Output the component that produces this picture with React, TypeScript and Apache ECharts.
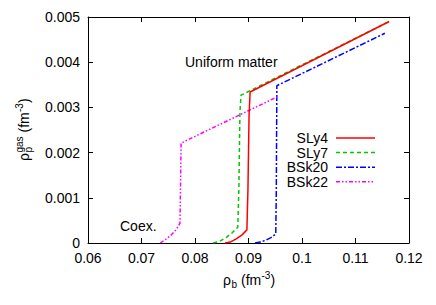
import React, { useEffect, useRef } from "react";
import * as echarts from "echarts";

const FONT = "'Liberation Sans', Arial, Helvetica, sans-serif";

const seriesNames = ["SLy4", "SLy7", "BSk20", "BSk22"];
const seriesColors = ["#ff0000", "#00c800", "#0000ff", "#ff00ff"];

const sly4: [number, number][] = [
  [0.0856, 0], [0.0866, 0.00002], [0.0877, 0.00009], [0.0888, 0.00018], [0.0897, 0.00029],
  [0.0899, 0.0012], [0.0901, 0.0028], [0.0903, 0.00334], [0.1163, 0.0049],
];
const sly7: [number, number][] = [
  [0.0834, 0], [0.0845, 0.00003], [0.0857, 0.00011], [0.0869, 0.00022], [0.088, 0.00035],
  [0.0882, 0.0012], [0.0884, 0.0029], [0.0886, 0.00327], [0.1163, 0.0049],
];
const bsk20: [number, number][] = [
  [0.0912, 0], [0.0922, 0.00002], [0.0932, 0.00006], [0.0942, 0.00012], [0.0951, 0.0002],
  [0.0952, 0.0012], [0.0953, 0.00348], [0.1155, 0.00464],
];
const bsk22: [number, number][] = [
  [0.0735, 0], [0.0745, 0.00008], [0.0755, 0.00017], [0.0765, 0.0003], [0.0772, 0.00044],
  [0.0773, 0.0013], [0.0774, 0.00221], [0.0953, 0.00323],
];
const seriesData = [sly4, sly7, bsk20, bsk22];
const seriesDash: (string | number[])[] = ["solid", [4, 3], [6, 2, 2, 2], [4, 2, 1.5, 2, 1.5, 2]];

const xMin = 0.06, xMax = 0.12, xStep = 0.01;
const yMin = 0, yMax = 0.005, yStep = 0.001;

export default function App() {
  const ref = useRef<HTMLDivElement>(null);
  useEffect(() => {
    if (!ref.current) return;
    const chart = echarts.init(ref.current, undefined, { renderer: "svg" });
    const axisCommon = {
      type: "value" as const,
      splitLine: { show: false },
      axisLine: { show: true, onZero: false, lineStyle: { color: "#000", width: 1 } },
      axisTick: { show: true, inside: true, length: 5, lineStyle: { color: "#000", width: 1 } },
    };
    const labelStyle = { color: "#000", fontSize: 14, fontFamily: FONT };
    const txt = (text: string, x: number, y: number, size = 14, align = "left") => ({
      type: "text", x, y,
      style: { text, fontSize: size, fontFamily: FONT, fill: "#000", textVerticalAlign: "middle", textAlign: align },
    });
    const legendRows = [138, 152.6, 167.2, 181.8];
    const legendItems = seriesNames.flatMap((name, i) => [
      txt(name, 328, legendRows[i], 14, "right"),
      {
        type: "line",
        shape: { x1: 336, y1: legendRows[i], x2: 375, y2: legendRows[i] },
        style: {
          stroke: seriesColors[i], lineWidth: 1.5,
          lineDash: Array.isArray(seriesDash[i]) ? seriesDash[i] : null,
        },
      },
    ]);
    chart.setOption({
      animation: false,
      backgroundColor: "#fff",
      grid: { left: 88, right: 27, top: 17, bottom: 62, containLabel: false },
      xAxis: [
        { ...axisCommon, min: xMin, max: xMax, interval: xStep, position: "bottom",
          axisLabel: { ...labelStyle, margin: 8 } },
        { ...axisCommon, min: xMin, max: xMax, interval: xStep, position: "top",
          axisLabel: { show: false } },
      ],
      yAxis: [
        { ...axisCommon, min: yMin, max: yMax, interval: yStep, position: "left",
          axisLabel: { ...labelStyle, margin: 8 } },
        { ...axisCommon, min: yMin, max: yMax, interval: yStep, position: "right",
          axisLabel: { show: false } },
      ],
      series: seriesNames.map((name, i) => ({
        name,
        type: "line",
        xAxisIndex: 0,
        yAxisIndex: 0,
        data: seriesData[i],
        symbol: "none",
        lineStyle: { color: seriesColors[i], width: 1.5, type: seriesDash[i] },
        itemStyle: { color: seriesColors[i] },
        z: 3 + (i === 0 ? 1 : 0),
      })),
      graphic: [
        txt("Uniform matter", 185, 62),
        txt("Coex.", 120, 226),
        {
          type: "group", x: 223, y: 280,
          children: [
            txt("ρ", 0, 0), txt("b", 8.5, 4, 10), txt("(fm", 18, 0), txt("-3", 38.5, -5, 10), txt(")", 47.5, 0),
          ],
        },
        {
          type: "group", x: 24, y: 161, rotation: Math.PI / 2,
          children: [
            txt("ρ", 0, 0), txt("gas", 8.5, -5, 10), txt("p", 8.5, 4, 10), txt("(fm", 28.5, 0),
            txt("-3", 49, -5, 10), txt(")", 58, 0),
          ],
        },
        ...legendItems,
      ],
    });
    return () => chart.dispose();
  }, []);
  return <div ref={ref} style={{ position: "fixed", left: 0, top: 0, width: 436, height: 305 }} />;
}
